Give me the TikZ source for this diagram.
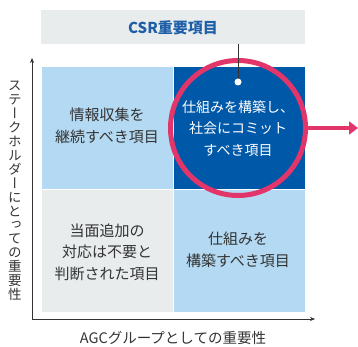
\documentclass[tikz,border=0pt]{standalone}
\usepackage{fontspec}
\setmainfont{Noto Sans CJK JP}
\newfontfamily\jpfont{Noto Sans CJK JP}
\newfontfamily\vjpfont[RawFeature=+vert]{Noto Sans CJK JP}
\usetikzlibrary{arrows.meta}
\definecolor{lightblue}{HTML}{B4D9F2}
\definecolor{darkblue}{HTML}{0058A8}
\definecolor{lightgray}{HTML}{E8ECED}
\definecolor{pinkred}{HTML}{E2356A}
\definecolor{txtgray}{HTML}{333333}
\definecolor{titleblue}{HTML}{1F5FA8}
\begin{document}
\begin{tikzpicture}[x=1pt,y=-1pt,
  quad/.style={draw=white,line width=0.8pt,minimum width=132pt,minimum height=123pt,inner sep=0pt,anchor=north west},
  qtext/.style={text=txtgray,font=\jpfont\fontsize{15}{21.5}\selectfont,align=center},
  axis/.style={draw=txtgray,line width=0.6pt,-{Stealth[length=5pt,width=4pt]}}]
\useasboundingbox (0,0) rectangle (358,347);
% header
\node[fill=lightgray,minimum width=264pt,minimum height=34pt,inner sep=0pt,anchor=north west] (hdr) at (41,10) {};
\node[text=titleblue,font=\jpfont\bfseries\fontsize{15}{16}\selectfont] (hdrt) at (173,27.5) {CSR重要項目};
% quadrants
\node[quad,fill=lightblue] (tl) at (41,66) {};
\node[quad,fill=darkblue] (tr) at (173,66) {};
\node[quad,fill=lightgray] (bl) at (41,189) {};
\node[quad,fill=lightblue] (br) at (173,189) {};
% circle
\node[circle,draw=pinkred,line width=5pt,minimum size=135pt,inner sep=0pt] (circ) at (238,128) {};
\coordinate (arrend) at (358,128);
\draw[pinkred,line width=4.5pt,-{Triangle[length=9pt,width=13pt]}] (circ.east) -- (arrend);
% connector from header
\coordinate (dotc) at (238,82);
\draw[txtgray,line width=0.9pt] (238,44) -- (dotc);
\node[circle,fill=white,minimum size=7pt,inner sep=0pt] (dot) at (dotc) {};
% texts
\node[qtext] (tlt) at (107,126) {情報収集を\\継続すべき項目};
\node[qtext,text=white,font=\jpfont\fontsize{14}{21.5}\selectfont] (trt) at (238,128.5) {仕組みを構築し、\\社会にコミット\\すべき項目};
\node[qtext] (blt) at (107,252) {当面追加の\\対応は不要と\\判断された項目};
\node[qtext] (brt) at (238,250) {仕組みを\\構築すべき項目};
% axes
\coordinate (origin) at (32,319);
\coordinate (ytip) at (32,58);
\coordinate (xtip) at (315,319);
\draw[axis] (origin) -- (ytip);
\draw[axis] (origin) -- (xtip);
\node[text=txtgray,font=\jpfont\fontsize{14.5}{16}\selectfont] (xl) at (173,338) {AGCグループとしての重要性};
\node[text=txtgray,font=\vjpfont\fontsize{13.5}{13.9}\selectfont,align=center,inner sep=0pt] (yl) at (15,191) {ス\\テ\\ー\\ク\\ホ\\ル\\ダ\\ー\\に\\と\\っ\\て\\の\\重\\要\\性};
\end{tikzpicture}
\end{document}
